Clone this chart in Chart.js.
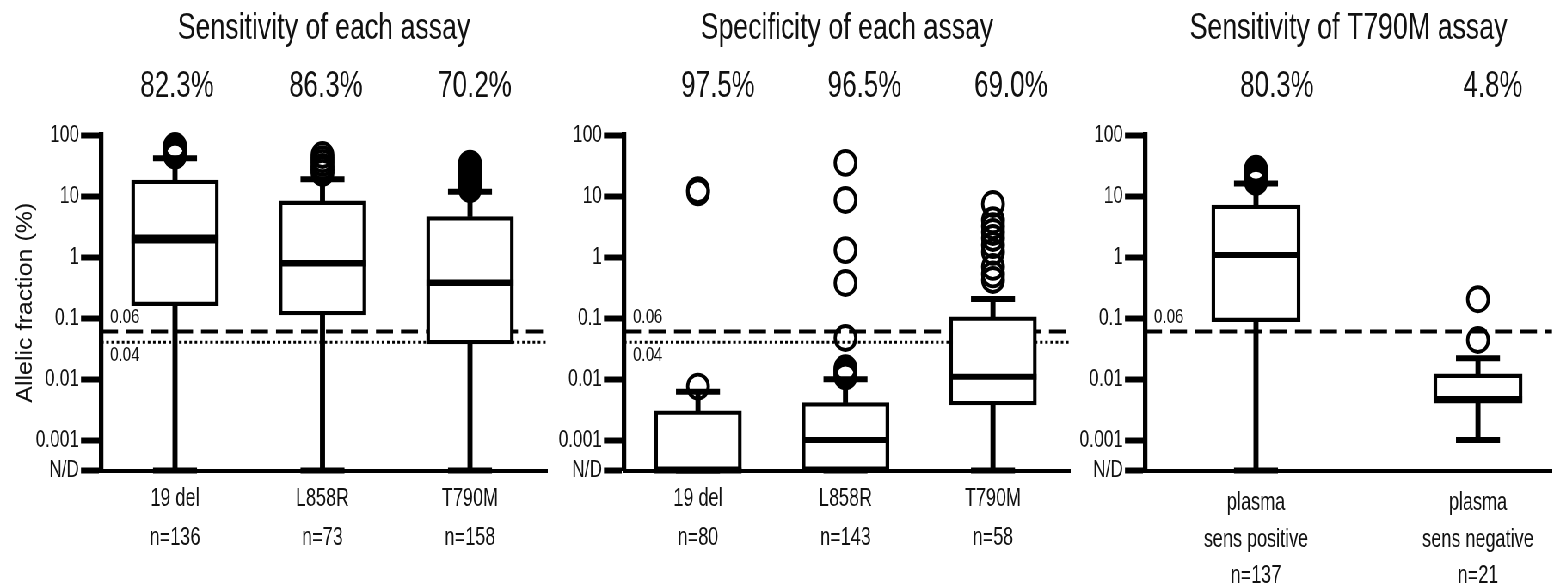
<!DOCTYPE html>
<html>
<head>
<meta charset="utf-8">
<script src="https://cdn.jsdelivr.net/npm/chart.js@4.4.1/dist/chart.umd.min.js"></script>
<style>
  html, body { margin: 0; padding: 0; background: #fff; overflow: hidden; width: 1552px; height: 587px; }
  #stage { position: absolute; left: 0; top: 0; height: 587px; transform-origin: 0 0; }
  #stage canvas { position: absolute; top: 0; }
</style>
</head>
<body>
<div id="stage"></div>
<script>
// ---------- values (allelic fraction, %) ----------
const ND = 'N/D';                       // not detected
const yTickValues = [100, 10, 1, 0.1, 0.01, 0.001, ND];
const yTickLabels = ['100', '10', '1', '0.1', '0.01', '0.001', 'N/D'];

// Sensitivity of each assay
const sensTitle = 'Sensitivity of each assay';
const sensAssays = ['19 del', 'L858R', 'T790M'];
const sensN = [136, 73, 158];
const sensRates = ['82.3%', '86.3%', '70.2%'];
const sensLower = [ND, ND, ND];
const sensQ1 = [0.159, 0.112, 0.0375];
const sensMedian = [1.97, 0.79, 0.379];
const sensQ3 = [18.3, 8.3, 4.6];
const sensUpper = [41.5, 18.8, 11.7];
const sensOutliers = [
  [46, 47, 50, 53, 56, 60, 63, 66],
  [24, 27, 30, 35, 40, 47],
  [13, 14, 15, 16, 17, 18, 20, 22, 24, 26, 28, 30, 32, 34]
];
const sensCutoffs = [0.06, 0.04];

// Specificity of each assay
const specTitle = 'Specificity of each assay';
const specAssays = ['19 del', 'L858R', 'T790M'];
const specN = [80, 143, 58];
const specRates = ['97.5%', '96.5%', '69.0%'];
const specLower = [ND, ND, ND];
const specQ1 = [ND, ND, 0.00375];
const specMedian = [ND, 0.001, 0.0109];
const specQ3 = [0.0030, 0.0041, 0.105];
const specUpper = [0.0062, 0.0099, 0.205];
const specOutliers = [
  [0.0075, 11.5, 12.5],
  [0.011, 0.012, 0.013, 0.014, 0.015, 0.047, 0.375, 1.3, 8.6, 35],
  [0.42, 0.52, 0.69, 1.21, 1.57, 2.05, 2.57, 3.2, 4.0, 7.4]
];
const specCutoffs = [0.06, 0.04];

// Sensitivity of T790M assay
const t790Title = 'Sensitivity of T790M assay';
const t790Groups = [['plasma', 'sens positive'], ['plasma', 'sens negative']];
const t790N = [137, 21];
const t790Rates = ['80.3%', '4.8%'];
const t790Lower = [ND, 0.001];
const t790Q1 = [0.0869, 0.0040];
const t790Median = [1.08, 0.0047];
const t790Q3 = [7.1, 0.0121];
const t790Upper = [16.1, 0.0219];
const t790Outliers = [
  [17, 18, 19, 20, 21, 22.5, 24, 25, 26.5, 28],
  [0.0436, 0.203]
];
const t790Cutoffs = [0.06];

// ---------- drawing ----------
const S = 0.86;                 // horizontal compression of the whole figure
const v = px => px / S;         // screen px -> stage px
const CONDENSE = 0.84;          // extra horizontal squeeze for the narrow labels
const ND_LEVEL = -3.5;          // log10 row used for N/D
const toAxis = a => (a === ND ? ND_LEVEL : Math.log10(a));
const NARROW = "'Liberation Sans Narrow', 'Arial Narrow', Arimo, 'Liberation Sans', Arial, sans-serif";
const REGULAR = "'Liberation Sans', Arial, sans-serif";
const INK = '#111';
const H = 587;
const AREA_TOP = 135, AREA_BOTTOM = 470.5;

const stage = document.getElementById('stage');
stage.style.width = v(1552) + 'px';
stage.style.transform = `scaleX(${S})`;

// narrow-family text is drawn horizontally condensed around its anchor
function condenseText(ctx) {
  const fill = ctx.fillText.bind(ctx);
  ctx.fillText = function (text, x, y, maxWidth) {
    if (/Narrow/.test(ctx.font)) {
      ctx.save();
      ctx.translate(x, y);
      ctx.scale(CONDENSE, 1);
      fill(text, 0, 0);
      ctx.restore();
      return;
    }
    return maxWidth === undefined ? fill(text, x, y) : fill(text, x, y, maxWidth);
  };
}

const cutoffStyles = [
  { width: 4, dash: [v(17), v(8)], dy: -14 },
  { width: 3, dash: [v(2.6), v(2.6)], dy: 13 }
];

const cutoffText = {
  id: 'cutoffText',
  afterDatasetsDraw(chart, args, opts) {
    const { ctx, chartArea } = chart;
    const y = chart.scales.y;
    ctx.save();
    ctx.font = `21px ${NARROW}`;
    ctx.fillStyle = INK;
    ctx.textAlign = 'left';
    ctx.textBaseline = 'middle';
    (opts.values || []).forEach((val, i) => {
      const py = y.getPixelForValue(Math.log10(val));
      ctx.fillText(String(val), chartArea.left + v(9), py + cutoffStyles[i].dy);
    });
    ctx.restore();
  }
};

function range(areaLeft, areaRight, firstPx, step) {
  return { min: 1 - (firstPx - areaLeft) / step, max: 1 + (areaRight - firstPx) / step };
}

function fixHeight(h) {
  return s => { s.height = h; s.paddingLeft = 0; s.paddingRight = 0; };
}

function makePanel(p, L) {
  const left = Math.round(v(L.canvasLeft));
  const width = Math.round(v(L.canvasRight)) - left;
  const canvas = document.createElement('canvas');
  canvas.width = width;
  canvas.height = H;
  canvas.style.left = left + 'px';
  canvas.style.width = width + 'px';
  canvas.style.height = H + 'px';
  stage.appendChild(canvas);
  condenseText(canvas.getContext('2d'));

  const xs = p.labels.map((_, i) => i + 1);
  const bottom = range(L.axisLeft, L.areaRight, L.catFirst, L.catStep);
  const top = range(L.axisLeft, L.areaRight, L.rateFirst, L.rateStep);
  const boxW = v(L.boxWidth);

  const datasets = [];
  p.cutoffs.forEach((c, i) => {
    datasets.push({
      type: 'line',
      data: [{ x: bottom.min, y: Math.log10(c) }, { x: bottom.max, y: Math.log10(c) }],
      borderColor: '#000', borderWidth: cutoffStyles[i].width, borderDash: cutoffStyles[i].dash,
      pointRadius: 0, fill: false, order: 6, clip: false
    });
  });
  // whiskers
  datasets.push({
    type: 'bar',
    data: xs.flatMap((x, i) => [
      { x, y: [toAxis(p.q3[i]), toAxis(p.upper[i])] },
      { x, y: [toAxis(p.lower[i]), toAxis(p.q1[i])] }
    ]),
    backgroundColor: '#000', borderWidth: 0, barThickness: v(4.5), maxBarThickness: v(4.5),
    grouped: false, order: 5, clip: false
  });
  // interquartile boxes
  datasets.push({
    type: 'bar',
    data: xs.map((x, i) => ({ x, y: [toAxis(p.q1[i]), toAxis(p.q3[i])] })),
    backgroundColor: '#fff', borderColor: '#000', borderWidth: 4.3, borderSkipped: false,
    barThickness: boxW, maxBarThickness: boxW, grouped: false, order: 4, clip: false
  });
  // medians
  datasets.push({
    type: 'scatter',
    data: xs.map((x, i) => ({ x, y: toAxis(p.median[i]) })),
    pointStyle: 'line', pointRadius: boxW / 2, pointBorderWidth: L.medianWidths,
    pointBorderColor: '#000', order: 3, clip: false
  });
  // whisker caps
  datasets.push({
    type: 'scatter',
    data: xs.flatMap((x, i) => [{ x, y: toAxis(p.upper[i]) }, { x, y: toAxis(p.lower[i]) }]),
    pointStyle: 'line', pointRadius: v(22), pointBorderWidth: 6,
    pointBorderColor: '#000', order: 2, clip: false
  });
  // outliers
  datasets.push({
    type: 'scatter',
    data: xs.flatMap((x, i) => p.outliers[i].map(o => ({ x, y: toAxis(o) }))),
    pointStyle: 'circle', pointRadius: 12, pointBorderWidth: 3.8,
    pointBorderColor: '#000', pointBackgroundColor: 'rgba(0,0,0,0)', order: 1, clip: false
  });

  return new Chart(canvas, {
    type: 'bar',
    data: { datasets },
    plugins: [cutoffText],
    options: {
      responsive: false,
      animation: false,
      devicePixelRatio: 1,
      layout: { autoPadding: false, padding: { left: 0, top: 0, bottom: 0, right: Math.max(0, width - (v(L.areaRight) - left)) } },
      plugins: {
        legend: { display: false },
        tooltip: { enabled: false },
        cutoffText: { values: p.cutoffs }
      },
      scales: {
        x: {
          type: 'linear', position: 'bottom', min: bottom.min, max: bottom.max, offset: false,
          afterBuildTicks: s => { s.ticks = xs.map(x => ({ value: x })); },
          afterFit: fixHeight(H - AREA_BOTTOM),
          ticks: {
            callback: (val, i) => p.labels[i], autoSkip: false, maxRotation: 0, minRotation: 0,
            font: { family: NARROW, size: 25, lineHeight: L.labelLine / 25 }, color: INK, padding: L.labelPad
          },
          grid: { display: true, drawOnChartArea: false, drawTicks: false, offset: false },
          border: { display: true, width: 4, color: '#000' }
        },
        xTop: {
          type: 'linear', axis: 'x', position: 'top', min: top.min, max: top.max, offset: false,
          afterBuildTicks: s => { s.ticks = xs.map(x => ({ value: x })); },
          afterFit: fixHeight(AREA_TOP),
          ticks: {
            callback: (val, i) => p.rates[i], autoSkip: false, maxRotation: 0, minRotation: 0,
            font: { family: NARROW, size: 36 }, color: INK, padding: 26
          },
          grid: { display: false, drawTicks: false },
          border: { display: false },
          title: { display: true, text: p.title, font: { family: NARROW, size: 37 }, color: INK, padding: { top: 7, bottom: 0 } }
        },
        y: {
          type: 'linear', min: ND_LEVEL, max: 2,
          afterBuildTicks: s => { s.ticks = yTickValues.map(t => ({ value: toAxis(t) })); },
          afterFit: s => { s.width = v(L.axisLeft) - left; },
          ticks: {
            callback: (val, i) => yTickLabels[i], autoSkip: false,
            font: { family: NARROW, size: 24 }, color: INK, padding: v(2)
          },
          grid: { display: true, drawOnChartArea: false, drawTicks: true, tickLength: v(20), tickWidth: 6, tickColor: '#000' },
          border: { display: true, width: v(4.5), color: '#000' },
          title: {
            display: !!L.yTitle, text: 'Allelic fraction (%)',
            font: { family: REGULAR, size: 25 }, color: INK, padding: { top: 15, bottom: 0 }
          }
        }
      }
    }
  });
}

makePanel(
  { title: sensTitle, labels: sensAssays.map((a, i) => [a, 'n=' + sensN[i]]), rates: sensRates,
    lower: sensLower, q1: sensQ1, median: sensMedian, q3: sensQ3, upper: sensUpper,
    outliers: sensOutliers, cutoffs: sensCutoffs },
  { canvasLeft: 0, canvasRight: 549, axisLeft: 101, areaRight: 547, catFirst: 175, catStep: 147.5,
    rateFirst: 177, rateStep: 149, boxWidth: 87, medianWidths: [9, 6.5, 6.5], labelLine: 39, labelPad: 9, yTitle: true }
);
makePanel(
  { title: specTitle, labels: specAssays.map((a, i) => [a, 'n=' + specN[i]]), rates: specRates,
    lower: specLower, q1: specQ1, median: specMedian, q3: specQ3, upper: specUpper,
    outliers: specOutliers, cutoffs: specCutoffs },
  { canvasLeft: 549, canvasRight: 1075, axisLeft: 624, areaRight: 1070, catFirst: 698, catStep: 147.5,
    rateFirst: 718, rateStep: 146.5, boxWidth: 87, medianWidths: [6, 6, 6], labelLine: 39, labelPad: 9 }
);
makePanel(
  { title: t790Title, labels: t790Groups.map((g, i) => [...g, 'n=' + t790N[i]]), rates: t790Rates,
    lower: t790Lower, q1: t790Q1, median: t790Median, q3: t790Q3, upper: t790Upper,
    outliers: t790Outliers, cutoffs: t790Cutoffs },
  { canvasLeft: 1075, canvasRight: 1552, axisLeft: 1145, areaRight: 1552, catFirst: 1256, catStep: 222,
    rateFirst: 1277, rateStep: 216, boxWidth: 88.5, medianWidths: [6, 6], labelLine: 36.5, labelPad: 14.5 }
);
</script>
</body>
</html>
